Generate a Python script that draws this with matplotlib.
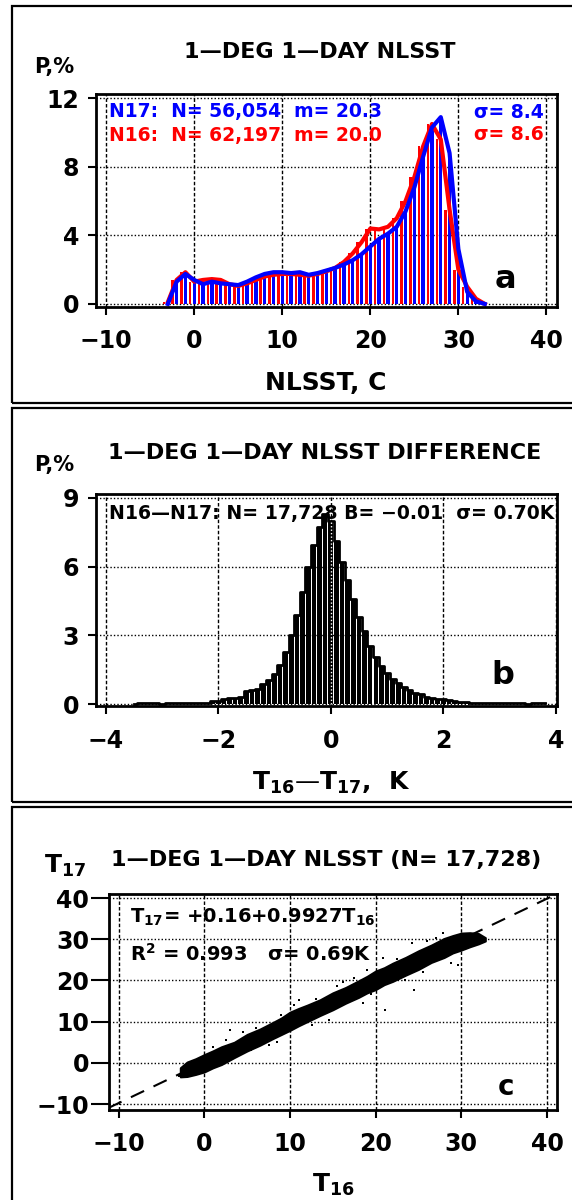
import numpy as np
import matplotlib.pyplot as plt

plt.rcParams['font.family'] = 'DejaVu Sans'
plt.rcParams['font.weight'] = 'bold'
plt.rcParams['mathtext.default'] = 'bf'

W, H = 572, 1200

# panel a: 1-deg 1-day NLSST histograms (P, % per 1 C bin)
sst_bins = list(range(-3, 34))
p_n17 = [0, 1.3, 1.75, 1.4, 1.15, 1.3, 1.2, 1.15, 1.1, 1.3, 1.55, 1.75, 1.85,
         1.85, 1.8, 1.85, 1.7, 1.8, 1.95, 2.1, 2.3, 2.55, 2.9, 3.35, 3.8, 4.1,
         4.5, 5.4, 6.8, 8.6, 10.3, 10.9, 8.8, 3.2, 0.7, 0.15, 0]
p_n16 = [0.1, 1.4, 1.85, 1.3, 1.4, 1.45, 1.4, 1.15, 1.05, 1.2, 1.4, 1.6, 1.7,
         1.75, 1.75, 1.7, 1.65, 1.75, 1.9, 2.1, 2.45, 2.95, 3.6, 4.4, 4.35, 4.5,
         5.0, 6.0, 7.4, 9.2, 10.5, 9.6, 5.5, 2.0, 1.0, 0.3, 0]

# panel b: N16-N17 difference histogram, 0.1 K bins from -3.5 to 3.8
diff_bins = np.round(np.arange(-3.5, 3.85, 0.1), 1)
p_diff = [0, .05, .05, .05, .05, 0, .05, .05, .05, .05,
          .05, .05, .05, .05, .12, .15, .2, .25, .28, .3,
          .55, .62, .65, .88, 1.05, 1.3, 1.7, 2.25, 3.0, 3.9,
          4.9, 6.0, 6.95, 7.75, 8.3, 8.0, 7.1, 6.2, 5.4, 4.6,
          3.8, 3.2, 2.55, 2.05, 1.65, 1.34, 1.1, .9, .75, .62,
          .5, .42, .32, .27, .22, .2, .17, .15, .1, .1,
          .05, .05, .05, .05, .05, .05, .05, .05, .04, .04,
          0, .04, .04, .04]

# panel c: scatter T17 vs T16, dense core outline + stray points
band_x = [-2.8, -2.0, -1.0, 0, 1, 2, 3.5, 5, 6.5, 8, 9, 10, 11, 12, 13.5, 15,
          16.5, 18, 19, 20, 21, 22, 23.5, 25, 26.5, 28, 29, 30, 31, 32, 32.8]
band_lo = [-3.4, -3.3, -2.8, -2.2, -1.2, -0.4, 1.3, 2.9, 4.3, 5.9, 6.9, 7.9,
           9.0, 10.0, 11.5, 12.9, 14.5, 15.9, 17.0, 17.8, 19.0, 19.8, 21.3,
           22.7, 24.4, 25.6, 26.7, 27.4, 28.2, 28.9, 29.6]
band_hi = [-1.2, 0.2, 1.0, 2.0, 2.9, 3.9, 5.0, 6.9, 8.2, 9.8, 10.9, 12.3,
           13.2, 14.0, 15.3, 17.0, 18.3, 19.9, 21.0, 22.3, 23.1, 24.2, 25.6,
           27.2, 28.6, 30.2, 30.9, 31.5, 31.6, 31.4, 30.4]
stray_x = [19.0, 21.1, 24.5, 28.8, 29.6, 11.1, 16.2, 14.5, 12.6, 7.5, 3.0,
           23.4, 24.2, 20.9, 27.9, 3.4, 6.0, 9.0, 17.5, 26.0, -3.0, 1.0, 13.0,
           4.5, 8.5, 15.5, 18.5, 22.5, 25.5, 10.5, 5.5, 19.5, 27.0, 2.5]
stray_y = [22.6, 12.9, 17.7, 24.2, 23.8, 15.3, 19.7, 10.4, 9.2, 4.4, 8.0,
           20.1, 29.0, 25.5, 31.5, 1.9, 8.5, 11.5, 20.5, 29.5, -3.2, 3.8, 15.5,
           7.6, 5.0, 18.6, 14.6, 25.2, 22.0, 14.0, 3.0, 16.6, 30.4, 5.6]
fit_a, fit_b = 0.16, 0.9927

fig = plt.figure(figsize=(W / 100, H / 100), dpi=100)


def px(x, y):
    return x / W, 1 - y / H


def ftext(x, y, s, size, ha='center', color='black', **kw):
    fig.text(*px(x, y), s, fontsize=size, ha=ha, va='center', color=color,
             fontweight='bold', **kw)


def style(ax, ylen=6):
    for sp in ax.spines.values():
        sp.set_linewidth(2)
    ax.set_axisbelow(True)
    ax.xaxis.grid(True, color='black', linestyle=(0, (2.5, 1.5)), linewidth=1)
    ax.yaxis.grid(True, color='black', linestyle=(0, (1, 1.5)), linewidth=1)
    ax.tick_params(axis='x', direction='out', length=6, width=1.5,
                   labelsize=17, pad=10)
    ax.tick_params(axis='y', direction='out', length=ylen, width=1.5,
                   labelsize=17, pad=6)


# panel frames
for y0, y1 in [(6, 403), (408, 802), (807, 1215)]:
    fig.patches.append(plt.Rectangle(px(12, y1), 600 / W, (y1 - y0) / H,
                                     transform=fig.transFigure, fill=False,
                                     lw=1.6, ec='black'))

# ---- panel a
ax = fig.add_axes([95.6 / W, 1 - 306.5 / H, 461.4 / W, 212.5 / H])
style(ax)
x = np.array(sst_bins)
ax.bar(x - 0.45, p_n16, width=0.28, color='red', lw=0)
ax.bar(x, p_n17, width=0.38, color='blue', lw=0)
ax.plot(x, p_n16, color='red', lw=3)
ax.plot(x, p_n17, color='blue', lw=3)
ax.set_xlim(-11.2, 41.2)
ax.set_ylim(-0.15, 12.25)
ax.set_xticks([-10, 0, 10, 20, 30, 40])
ax.set_yticks([0, 4, 8, 12])
ftext(320, 52, '1—DEG 1—DAY NLSST', 16)
ftext(54, 67, 'P,%', 15)
ftext(326, 383, 'NLSST, C', 18)
ftext(109, 112, 'N17:  N= 56,054  m= 20.3', 13.5, ha='left', color='blue')
ftext(109, 135, 'N16:  N= 62,197  m= 20.0', 13.5, ha='left', color='red')
ftext(544, 112, 'σ= 8.4', 13.5, ha='right', color='blue')
ftext(544, 135, 'σ= 8.6', 13.5, ha='right', color='red')
ftext(505, 279, 'a', 23)

# ---- panel b
ax = fig.add_axes([95.6 / W, 1 - 706.3 / H, 461.4 / W, 212.3 / H])
style(ax)
ax.bar(diff_bins, p_diff, width=0.082, color='black', lw=0)
ax.step(diff_bins, p_diff, where='mid', color='black', lw=2)
ax.vlines(0, 0, max(p_diff) - 0.3, color='white', linestyle=(0, (1, 1.5)), lw=1)
ax.set_xlim(-4.18, 4.02)
ax.set_ylim(-0.1, 9.17)
ax.set_xticks([-4, -2, 0, 2, 4])
ax.set_yticks([0, 3, 6, 9])
ftext(325, 453, '1—DEG 1—DAY NLSST DIFFERENCE', 16)
ftext(54, 465, 'P,%', 15)
ftext(331, 783, 'T$_{16}$—T$_{17}$,  K', 18)
ftext(109, 513, 'N16—N17: N= 17,728 B= −0.01  σ= 0.70K', 13.6, ha='left')
ftext(503, 675, 'b', 23)

# ---- panel c
ax = fig.add_axes([108.7 / W, 1 - 1110 / H, 448.3 / W, 216 / H])
style(ax, ylen=13)
xl = np.array([-11.2, 41.2])
ax.plot(xl, fit_a + fit_b * xl, color='black', lw=1.5, dashes=(7, 5))
ax.fill_between(band_x, band_lo, band_hi, color='black', lw=1.5, ec='black')
ax.scatter(stray_x, stray_y, s=4, color='black', marker='s', lw=0)
ax.set_xlim(-11.16, 41.17)
ax.set_ylim(-11.45, 41)
ax.set_xticks([-10, 0, 10, 20, 30, 40])
ax.set_yticks([-10, 0, 10, 20, 30, 40])
ax.tick_params(axis='y', pad=1)
ftext(326, 860, '1—DEG 1—DAY NLSST (N= 17,728)', 16)
ftext(65, 866, 'T$_{17}$', 18)
ftext(333, 1185, 'T$_{16}$', 18)
ftext(130, 917, 'T$_{17}$= +0.16+0.9927T$_{16}$', 14, ha='left')
ftext(130, 954, 'R$^{2}$ = 0.993   σ= 0.69K', 14, ha='left')
ftext(506, 1087, 'c', 20)

fig.savefig('out.png', dpi=100)
